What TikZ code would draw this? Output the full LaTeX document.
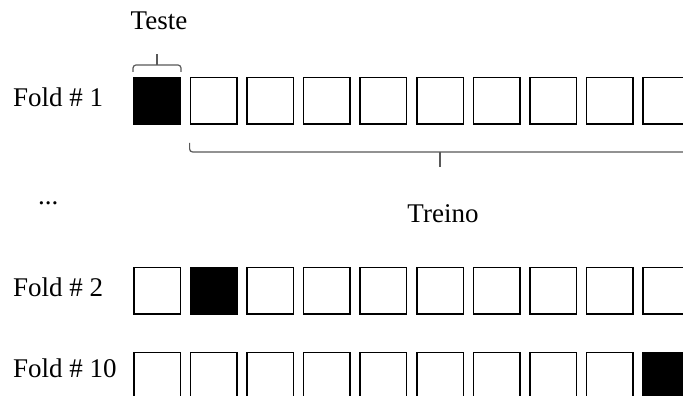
\documentclass[tikz,border=0pt]{standalone}
\usepackage{fontspec}
\setmainfont{Liberation Serif}
\usetikzlibrary{calc}
\begin{document}
\begin{tikzpicture}[x=1pt,y=1pt,
  cell/.style={draw=black,line width=1.5pt,minimum size=46.5pt,inner sep=0pt,anchor=north west},
  testcell/.style={cell,fill=black},
  lbl/.style={font=\fontsize{27}{31}\selectfont,inner sep=0pt,anchor=base west},
  bracket/.style={draw=black!65,line width=1.2pt,rounded corners=3pt}]
\clip (0,0) rectangle (683,396);
\fill[white] (0,0) rectangle (683,396);
% rows of ten folds; top edges of the rows in picture units (y measured downwards)
\foreach \r/\top/\k in {1/77/1, 2/267/2, 3/352/10}{
  \foreach \i in {1,...,10}{
    \pgfmathsetmacro{\xl}{133+56.6*(\i-1)}
    \ifnum\i=\k
      \node[testcell] (b\r-\i) at (\xl,396-\top) {};
    \else
      \node[cell] (b\r-\i) at (\xl,396-\top) {};
    \fi
  }
}
% row labels
\node[lbl] (f1) at (13,396-107) {Fold \# 1};
\node[lbl] (f2) at (13,396-297) {Fold \# 2};
\node[lbl] (f10) at (13,396-378) {Fold \# 10};
\node[lbl] (dots) at (38,396-205) {...};
% bracket over the test fold
\draw[bracket] ([yshift=5pt]b1-1.north west) |- ([yshift=12pt]b1-1.north east) -- ([yshift=5pt]b1-1.north east);
\draw[bracket] ([yshift=12pt]b1-1.north) -- ([yshift=23pt]b1-1.north);
\node[lbl,anchor=base] (teste) at ($(b1-1.north)+(2,366-396+77)$) {Teste};
% bracket under the training folds
\coordinate (tl) at ([yshift=-18pt]b1-2.south west);
\coordinate (tr) at ([yshift=-18pt]b1-10.south east);
\coordinate (tm) at ($(tl)!0.5!(tr)$);
\draw[bracket] (tl) |- ([yshift=-9pt]tr) -- (tr);
\draw[bracket] ([yshift=-9pt]tm) -- ([yshift=-24pt]tm);
\node[lbl,anchor=base] (treino) at (443,396-223) {Treino};
\end{tikzpicture}
\end{document}
